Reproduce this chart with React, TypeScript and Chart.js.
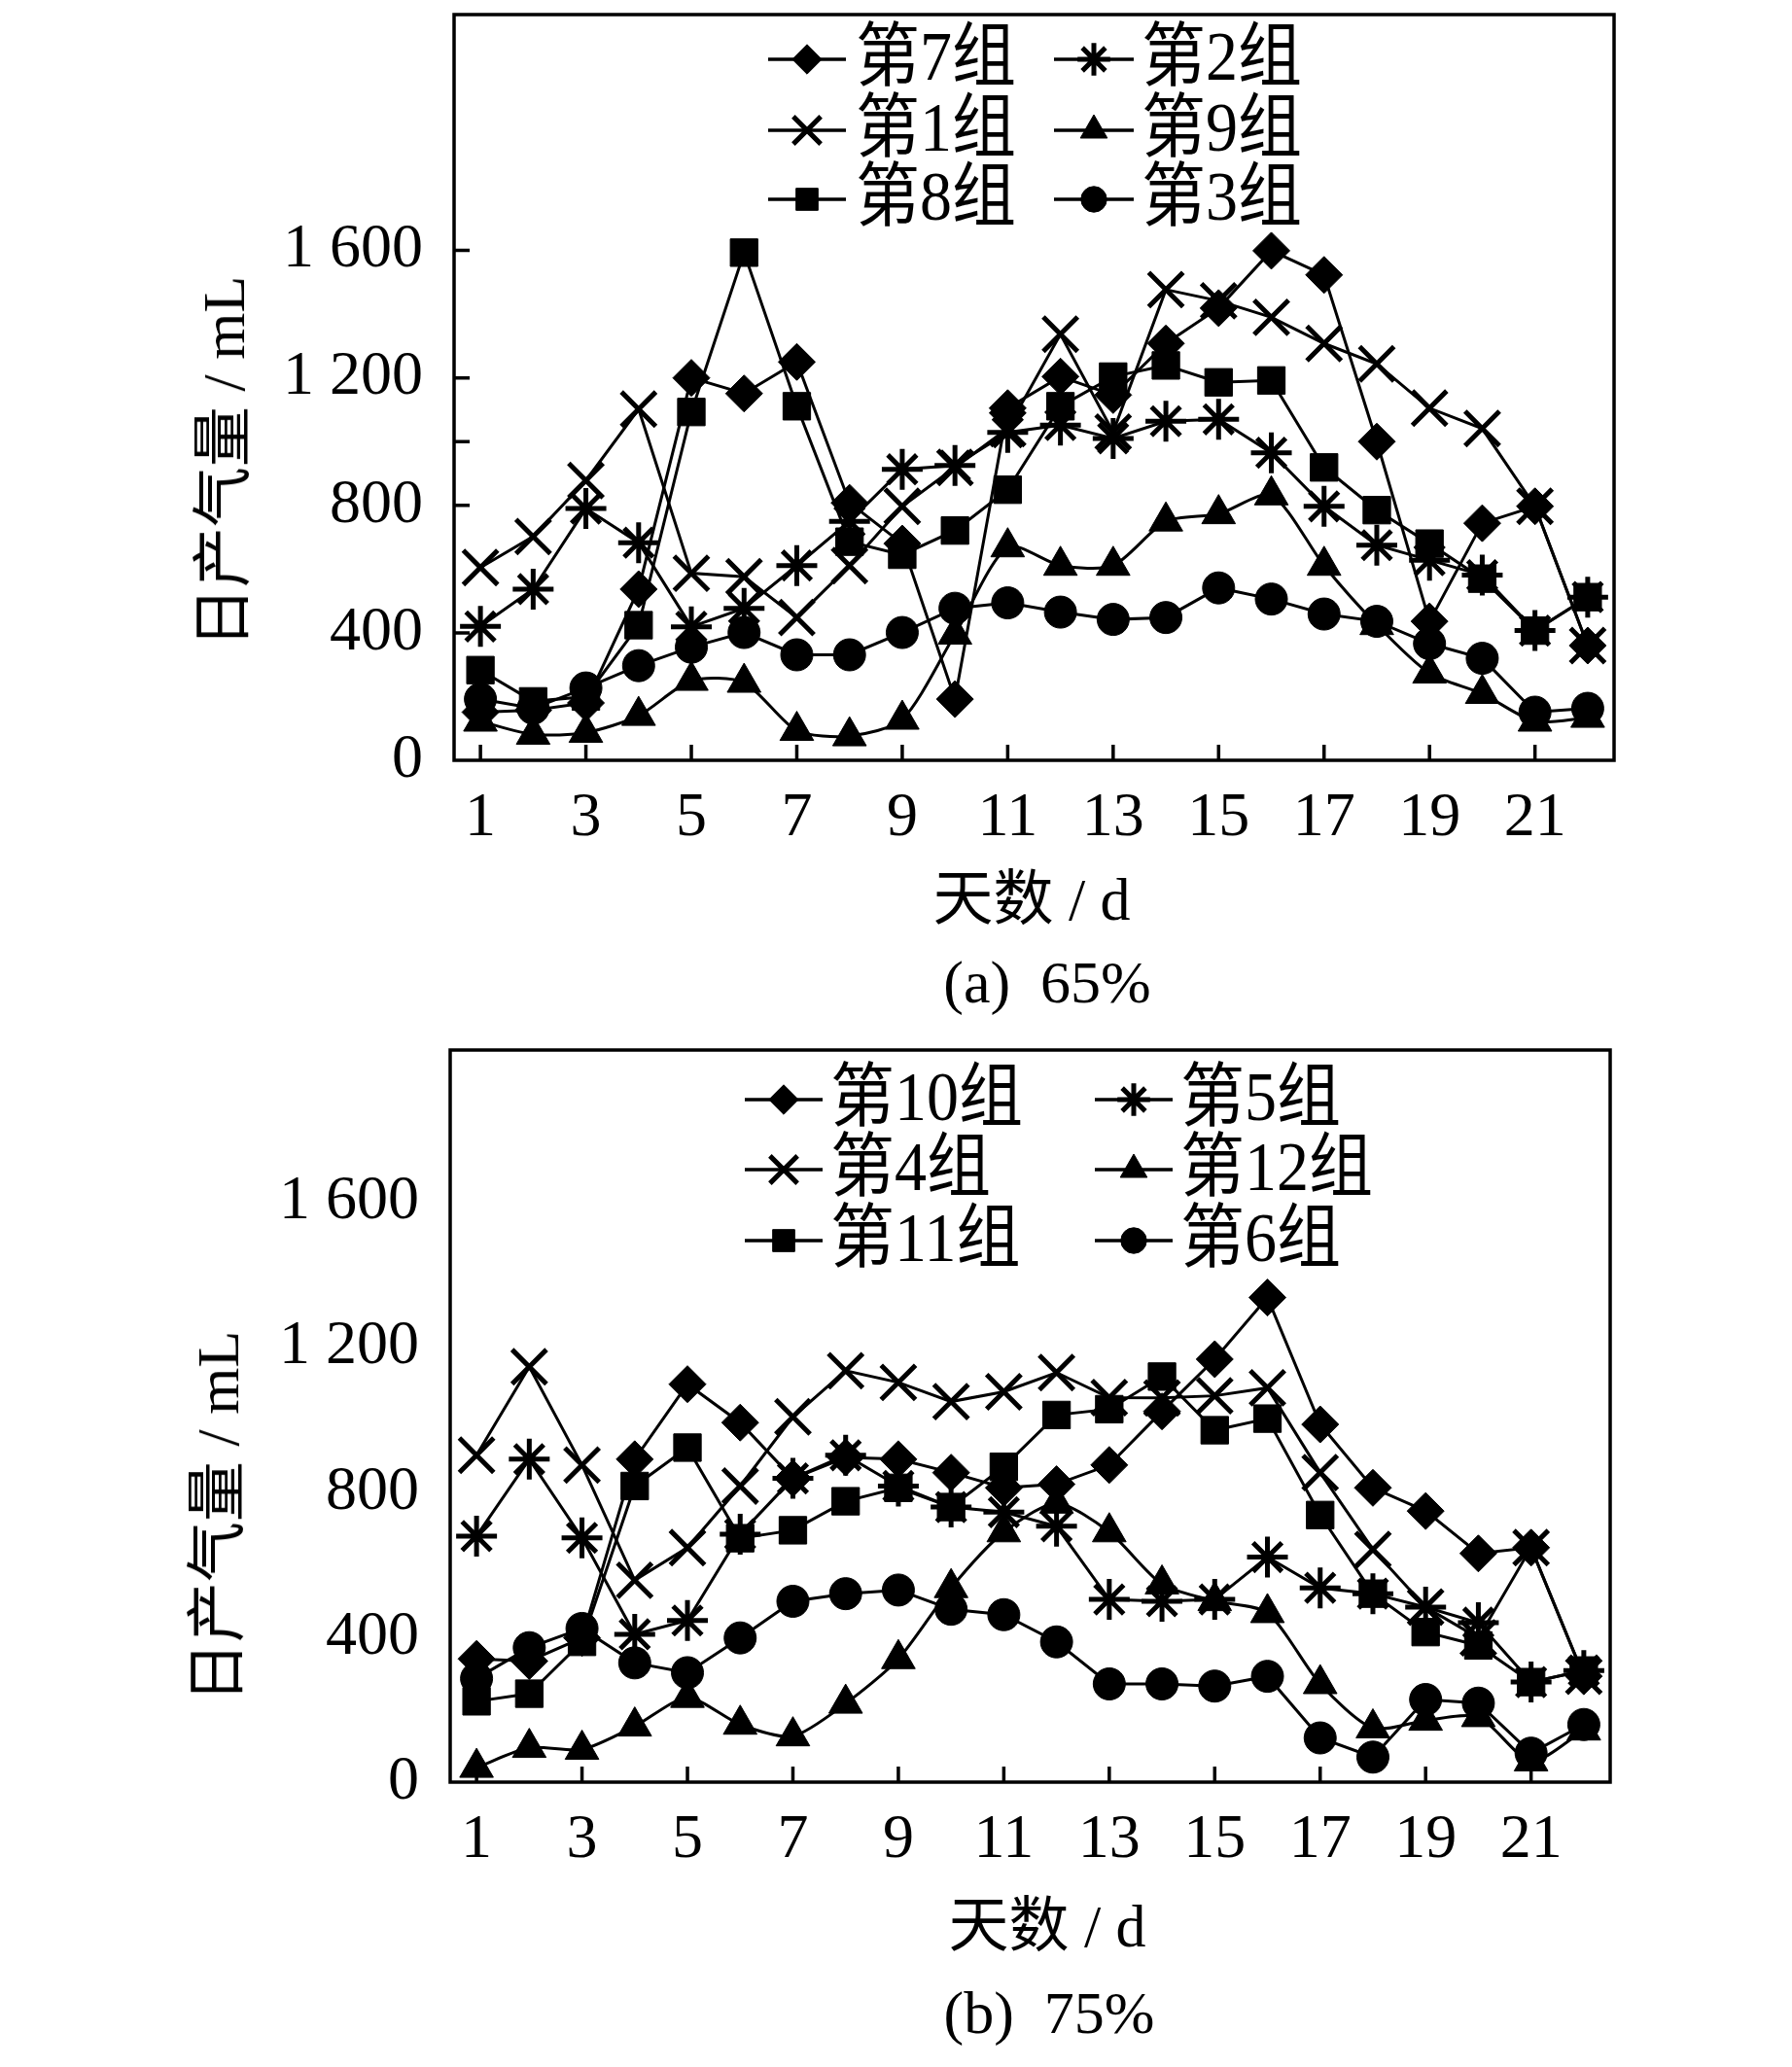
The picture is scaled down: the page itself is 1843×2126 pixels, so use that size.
import { useEffect, useRef } from 'react'
import { Chart, registerables } from 'chart.js'
import { drawPoint } from 'chart.js/helpers'

Chart.register(...registerables)

const days = [1, 2, 3, 4, 5, 6, 7, 8, 9, 10, 11, 12, 13, 14, 15, 16, 17, 18, 19, 20, 21, 22]
const xTicks = [1, 3, 5, 7, 9, 11, 13, 15, 17, 19, 21]
const yTicks = [0, 400, 800, 1200, 1600]
const yMarksA = [400, 800, 1000, 1200, 1600]
const yMarksB: number[] = []

// (a) 65%
const g7 = [151, 157, 180, 537, 1200, 1151, 1250, 808, 680, 192, 1105, 1204, 1146, 1308, 1419, 1599, 1523, 1000, 436, 744, 797, 360]
const g2 = [420, 537, 790, 683, 419, 477, 611, 750, 913, 925, 1029, 1052, 1010, 1064, 1070, 965, 797, 675, 628, 581, 407, 512]
const g1 = [605, 702, 878, 1102, 587, 576, 448, 611, 797, 919, 1041, 1337, 1030, 1477, 1442, 1390, 1308, 1244, 1105, 1041, 797, 360]
const g9 = [122, 81, 87, 140, 250, 244, 93, 76, 128, 395, 669, 611, 611, 750, 773, 832, 611, 425, 273, 209, 122, 134]
const g8 = [283, 185, 200, 424, 1093, 1593, 1111, 686, 645, 721, 849, 1111, 1204, 1239, 1186, 1192, 919, 785, 680, 570, 407, 512]
const g3 = [192, 163, 227, 297, 355, 401, 331, 331, 401, 477, 494, 465, 442, 448, 541, 506, 459, 436, 366, 320, 151, 163]

// (b) 75%
const g10 = [340, 334, 398, 891, 1098, 992, 838, 896, 891, 854, 812, 822, 875, 1023, 1167, 1337, 987, 812, 748, 631, 647, 292]
const g5 = [679, 891, 674, 408, 446, 684, 838, 902, 817, 759, 745, 706, 504, 499, 504, 621, 536, 520, 483, 440, 276, 308]
const g4 = [902, 1146, 875, 557, 647, 817, 1008, 1135, 1103, 1050, 1077, 1130, 1061, 1060, 1066, 1088, 854, 642, 483, 398, 647, 292]
const g12 = [40, 95, 90, 154, 233, 159, 127, 217, 340, 536, 690, 769, 690, 546, 500, 467, 271, 149, 170, 180, 58, 143]
const g11 = [223, 244, 387, 817, 923, 673, 695, 775, 812, 759, 870, 1013, 1029, 1119, 971, 1003, 737, 520, 414, 377, 276, 308]
const g6 = [286, 371, 424, 329, 302, 398, 499, 520, 530, 477, 462, 387, 271, 271, 265, 292, 122, 69, 228, 218, 80, 159]

const FONT = '"Liberation Serif", "Noto Sans CJK SC", serif'

type Style = 'rectRot' | 'star' | 'crossRot' | 'triangle' | 'rect' | 'circle'
type Series = { label: string; values: number[]; style: Style }

const MARK: Record<Style, { radius: number; border: number; tension: number }> = {
  rectRot: { radius: 19, border: 1, tension: 0 },
  star: { radius: 21, border: 5, tension: 0 },
  crossRot: { radius: 25, border: 5, tension: 0 },
  triangle: { radius: 20, border: 1, tension: 0.25 },
  rect: { radius: 20, border: 1, tension: 0 },
  circle: { radius: 16.5, border: 1, tension: 0 },
}

const seriesA: Series[] = [
  { label: '第7组', values: g7, style: 'rectRot' },
  { label: '第2组', values: g2, style: 'star' },
  { label: '第1组', values: g1, style: 'crossRot' },
  { label: '第9组', values: g9, style: 'triangle' },
  { label: '第8组', values: g8, style: 'rect' },
  { label: '第3组', values: g3, style: 'circle' },
]

const seriesB: Series[] = [
  { label: '第10组', values: g10, style: 'rectRot' },
  { label: '第5组', values: g5, style: 'star' },
  { label: '第4组', values: g4, style: 'crossRot' },
  { label: '第12组', values: g12, style: 'triangle' },
  { label: '第11组', values: g11, style: 'rect' },
  { label: '第6组', values: g6, style: 'circle' },
]

type LegendPos = { cols: { x1: number; x2: number; text: number }[]; rows: number[] }

type PanelProps = {
  series: Series[]
  yMax: number
  yMarks: number[]
  yWidth: number
  xHeight: number
  pad: { top: number; right: number }
  legend: LegendPos
}

const fmt = (v: number) => (v >= 1000 ? `${Math.floor(v / 1000)} ${String(v % 1000).padStart(3, '0')}` : String(v))

function Panel({ series, yMax, yMarks, yWidth, xHeight, pad, legend }: PanelProps) {
  const ref = useRef<HTMLCanvasElement>(null)

  useEffect(() => {
    if (!ref.current) return

    const frame = {
      id: 'frame',
      beforeDatasetsDraw(chart: Chart) {
        const { ctx, chartArea: a, scales } = chart
        ctx.save()
        ctx.strokeStyle = '#000'
        ctx.lineWidth = 3.5
        ctx.strokeRect(a.left, a.top, a.right - a.left, a.bottom - a.top)
        ctx.beginPath()
        for (const v of xTicks) {
          const x = scales.x.getPixelForValue(v)
          ctx.moveTo(x, a.bottom)
          ctx.lineTo(x, a.bottom - 16)
        }
        for (const v of yMarks) {
          const y = scales.y.getPixelForValue(v)
          ctx.moveTo(a.left, y)
          ctx.lineTo(a.left + 16, y)
        }
        ctx.stroke()
        ctx.restore()
      },
      afterDraw(chart: Chart) {
        const ctx = chart.ctx
        ctx.save()
        ctx.fillStyle = '#000'
        ctx.strokeStyle = '#000'
        ctx.font = `66px ${FONT}`
        ctx.textBaseline = 'middle'
        series.forEach((s, i) => {
          const col = legend.cols[i % 2]
          const y = legend.rows[Math.floor(i / 2)]
          ctx.lineWidth = 3.5
          ctx.beginPath()
          ctx.moveTo(col.x1, y)
          ctx.lineTo(col.x2, y)
          ctx.stroke()
          const m = MARK[s.style]
          ctx.lineWidth = m.border
          drawPoint(ctx, { pointStyle: s.style, radius: m.radius * 0.8, rotation: 0, borderWidth: m.border }, (col.x1 + col.x2) / 2, y)
          ctx.save()
          ctx.translate(col.text, y + 2)
          ctx.scale(1, 1.08)
          ctx.fillText(s.label, 0, 0)
          ctx.restore()
        })
        ctx.restore()
      },
    }

    const chart = new Chart(ref.current, {
      type: 'line',
      data: {
        datasets: series.map((s) => ({
          label: s.label,
          data: s.values.map((y, i) => ({ x: days[i], y })),
          borderColor: '#000',
          backgroundColor: '#000',
          borderWidth: 3,
          pointStyle: s.style,
          pointRadius: MARK[s.style].radius,
          pointBorderWidth: MARK[s.style].border,
          pointBackgroundColor: '#000',
          pointBorderColor: '#000',
          tension: MARK[s.style].tension,
          clip: false,
        })),
      },
      options: {
        animation: false,
        responsive: true,
        maintainAspectRatio: false,
        layout: { autoPadding: false, padding: { left: 0, right: pad.right, top: pad.top, bottom: 0 } },
        plugins: { legend: { display: false }, tooltip: { enabled: false } },
        scales: {
          x: {
            type: 'linear',
            min: 0.5,
            max: 22.5,
            grid: { display: false, drawTicks: false },
            border: { display: false },
            afterBuildTicks: (s: any) => {
              s.ticks = xTicks.map((value) => ({ value }))
            },
            afterFit: (s: any) => {
              s.height = xHeight
              s.paddingLeft = 0
              s.paddingRight = 0
            },
            ticks: {
              padding: 22,
              maxRotation: 0,
              autoSkip: false,
              color: '#000',
              font: { family: FONT, size: 64 },
              callback: (v: any) => String(v),
            },
          },
          y: {
            min: 0,
            max: yMax,
            grid: { display: false, drawTicks: false },
            border: { display: false },
            afterBuildTicks: (s: any) => {
              s.ticks = yTicks.map((value) => ({ value }))
            },
            afterFit: (s: any) => {
              s.width = yWidth
              s.paddingTop = 0
              s.paddingBottom = 0
            },
            ticks: {
              padding: 32,
              color: '#000',
              font: { family: FONT, size: 64 },
              callback: (v: any) => fmt(Number(v)),
            },
          },
        },
      },
      plugins: [frame],
    })
    return () => chart.destroy()
  }, [series, yMax, yMarks, yWidth, xHeight, pad, legend])

  return <canvas ref={ref} role="img" aria-label="日产气量" />
}

const text = (x: number, y: number, rotate = false): React.CSSProperties => ({
  position: 'absolute',
  left: x,
  top: y,
  transform: `translate(-50%, -50%)${rotate ? ' rotate(-90deg)' : ''}`,
  whiteSpace: 'pre',
  font: `62px ${FONT}`,
  color: '#000',
  lineHeight: 1,
})

const legendA: LegendPos = {
  cols: [
    { x1: 790, x2: 870, text: 880 },
    { x1: 1084, x2: 1166, text: 1174 },
  ],
  rows: [61, 134, 205],
}
const legendB: LegendPos = {
  cols: [
    { x1: 766, x2: 846, text: 854 },
    { x1: 1126, x2: 1206, text: 1214 },
  ],
  rows: [68, 140, 213],
}
const padA = { top: 15, right: 183 }
const padB = { top: 17, right: 187 }

export default function App() {
  return (
    <div style={{ position: 'absolute', left: 0, top: 0, width: 1843, height: 2126, background: '#fff', overflow: 'hidden' }}>
      <div style={{ position: 'absolute', left: 0, top: 0, width: 1843, height: 1063 }}>
        <Panel series={seriesA} yMax={2340} yMarks={yMarksA} yWidth={467} xHeight={281} pad={padA} legend={legendA} />
      </div>
      <div style={{ position: 'absolute', left: 0, top: 1063, width: 1843, height: 1063 }}>
        <Panel series={seriesB} yMax={2020} yMarks={yMarksB} yWidth={463} xHeight={293} pad={padB} legend={legendB} />
      </div>
      <div style={text(230, 475, true)}>日产气量 / mL</div>
      <div style={text(1061, 925)}>天数 / d</div>
      <div style={text(1077, 1010)}>(a)  65%</div>
      <div style={text(224, 1560, true)}>日产气量 / mL</div>
      <div style={text(1077, 1981)}>天数 / d</div>
      <div style={text(1079, 2070)}>(b)  75%</div>
    </div>
  )
}
